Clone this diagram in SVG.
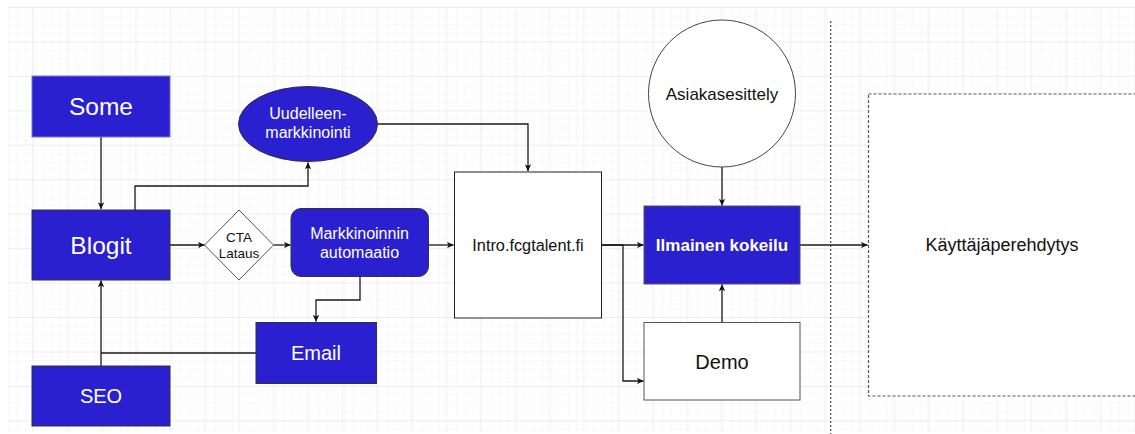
<svg xmlns="http://www.w3.org/2000/svg" width="1135" height="434" viewBox="0 0 1135 434">
  <defs>
    <pattern id="gridMinor" x="-0.4" y="7" width="8.61" height="8.61" patternUnits="userSpaceOnUse">
      <path d="M 0 0 L 8.61 0 M 0 0 L 0 8.61" fill="none" stroke="#f2f2f2" stroke-width="1"/>
    </pattern>
    <pattern id="gridMajor" x="32" y="7" width="34.45" height="34.45" patternUnits="userSpaceOnUse">
      <path d="M 0 0 L 34.45 0 M 0 0 L 0 34.45" fill="none" stroke="#e4e4e4" stroke-width="1"/>
    </pattern>
    <marker id="arrow" viewBox="0 0 10 10" refX="9.5" refY="5" markerWidth="7" markerHeight="7" markerUnits="userSpaceOnUse" orient="auto">
      <path d="M 0 0.5 L 10 5 L 0 9.5 L 2.5 5 Z" fill="#111"/>
    </marker>
    <style>
      .blue { fill: #2a20cf; stroke: #333; stroke-width: 1; }
      .white { fill: #ffffff; stroke: #333; stroke-width: 1; }
      .wt { fill: #ffffff; font-family: "Liberation Sans", Arial, sans-serif; text-anchor: middle; }
      .bt { fill: #111111; font-family: "Liberation Sans", Arial, sans-serif; text-anchor: middle; }
      .conn path { fill: none; stroke: #1a1a1a; stroke-width: 1.3; }
    </style>
  </defs>

  <!-- canvas with grid -->
  <rect x="0" y="0" width="1135" height="434" fill="#ffffff"/>
  <rect x="8" y="7" width="1127" height="425" fill="url(#gridMinor)"/>
  <rect x="8" y="7" width="1127" height="425" fill="url(#gridMajor)"/>

  <!-- stage divider -->
  <line x1="830.7" y1="21" x2="830.7" y2="434" stroke="#444" stroke-width="1.2" stroke-dasharray="2 2"/>

  <!-- connectors -->
  <g id="connectors" class="conn">
    <path d="M 101 137 L 101 209" marker-end="url(#arrow)"/>
    <path d="M 135 210 L 135 186 L 308 186 L 308 162.5" marker-end="url(#arrow)"/>
    <path d="M 378 124 L 528 124 L 528 171" marker-end="url(#arrow)"/>
    <path d="M 170 245 L 204.5 245" marker-end="url(#arrow)"/>
    <path d="M 273.5 245 L 290.5 245" marker-end="url(#arrow)"/>
    <path d="M 428.5 245 L 453.5 245" marker-end="url(#arrow)"/>
    <path d="M 360 277 L 360 300 L 316 300 L 316 321.5" marker-end="url(#arrow)"/>
    <path d="M 256 353 L 101 353"/>
    <path d="M 101 366 L 101 280.5" marker-end="url(#arrow)"/>
    <path d="M 602 245 L 643.5 245" marker-end="url(#arrow)"/>
    <path d="M 602 245 L 623 245 L 623 381 L 643.5 381" marker-end="url(#arrow)"/>
    <path d="M 722 167 L 722 205.5" marker-end="url(#arrow)"/>
    <path d="M 722 322.5 L 722 284.5" marker-end="url(#arrow)"/>
    <path d="M 800 245 L 867.5 245" marker-end="url(#arrow)"/>
  </g>

  <!-- nodes -->
  <g id="some">
    <rect x="32" y="76" width="138" height="61" class="blue" style="stroke:#6c7fc8"/>
    <text x="101" y="115" class="wt" font-size="24.5">Some</text>
  </g>
  <g id="blogit">
    <rect x="32" y="210" width="138" height="70" class="blue"/>
    <text x="101" y="253.5" class="wt" font-size="24.5">Blogit</text>
  </g>
  <g id="uudelleenmarkkinointi">
    <ellipse cx="308" cy="124" rx="69.5" ry="37.5" class="blue"/>
    <text x="308" y="119" class="wt" font-size="16">Uudelleen-</text>
    <text x="308" y="137.5" class="wt" font-size="16">markkinointi</text>
  </g>
  <g id="cta-lataus">
    <path d="M 239 210 L 273.5 245 L 239 280 L 204.5 245 Z" class="white" style="stroke:#555"/>
    <text x="239" y="242" class="bt" font-size="13.5">CTA</text>
    <text x="239" y="257.5" class="bt" font-size="13.5">Lataus</text>
  </g>
  <g id="markkinoinnin-automaatio">
    <rect x="291" y="208.5" width="137.5" height="68" rx="10" ry="10" class="blue"/>
    <text x="359.5" y="238.5" class="wt" font-size="16">Markkinoinnin</text>
    <text x="359.5" y="257.5" class="wt" font-size="16">automaatio</text>
  </g>
  <g id="email">
    <rect x="256" y="322.5" width="120.5" height="61" class="blue"/>
    <text x="316" y="359.5" class="wt" font-size="20">Email</text>
  </g>
  <g id="seo">
    <rect x="32" y="366" width="138" height="60" class="blue"/>
    <text x="101" y="403" class="wt" font-size="20">SEO</text>
  </g>
  <g id="intro">
    <rect x="454.5" y="172" width="147" height="146" class="white" style="stroke:#222"/>
    <text x="528" y="250.5" class="bt" font-size="16.3">Intro.fcgtalent.fi</text>
  </g>
  <g id="asiakasesittely">
    <circle cx="722" cy="93.5" r="73.5" class="white" style="stroke:#444"/>
    <text x="722" y="100" class="bt" font-size="17">Asiakasesittely</text>
  </g>
  <g id="ilmainen-kokeilu">
    <rect x="644" y="206" width="156" height="78" class="blue" style="stroke:#555"/>
    <text x="722" y="251" class="wt" font-size="17" font-weight="bold">Ilmainen kokeilu</text>
  </g>
  <g id="demo">
    <rect x="644" y="322.5" width="156" height="77.5" class="white" style="stroke:#555"/>
    <text x="722" y="368.5" class="bt" font-size="20">Demo</text>
  </g>
  <g id="kayttajaperehdytys">
    <rect x="868.5" y="94" width="290" height="302" fill="#ffffff" stroke="#555" stroke-width="1.2" stroke-dasharray="3 2"/>
    <text x="1002" y="251" class="bt" font-size="18">Käyttäjäperehdytys</text>
  </g>
</svg>
